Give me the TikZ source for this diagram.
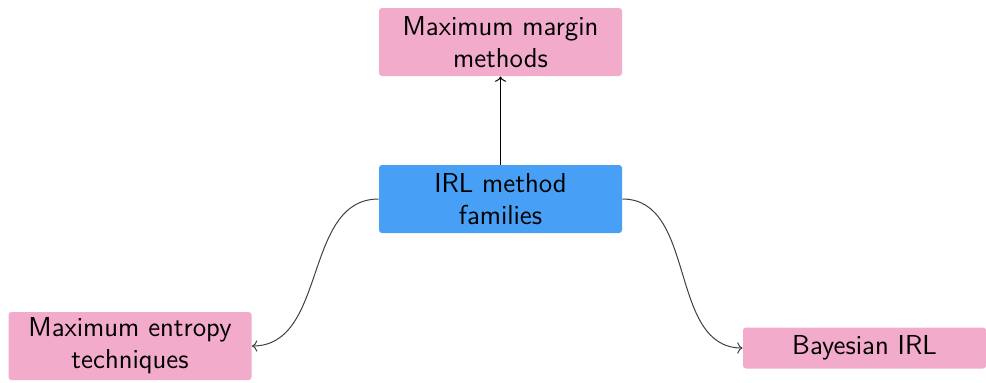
\documentclass[tikz,border=0pt]{standalone}
\usepackage{tikz}
\usetikzlibrary{arrows.meta}
\definecolor{leafpink}{HTML}{F3ABCB}
\definecolor{rootblue}{HTML}{489FF6}
\tikzset{
  family/.style={rounded corners=1.5pt, inner sep=2pt, align=center,
    font=\sffamily\fontsize{13.7}{16}\selectfont},
  rootbox/.style={family, fill=rootblue, minimum width=121.5pt, minimum height=34pt},
  leafbox/.style={family, fill=leafpink, minimum width=121.5pt, minimum height=34pt},
  link/.style={->, line width=0.5pt},
  curvelink/.style={link, draw=black!75}
}
\begin{document}
\begin{tikzpicture}[x=0.5pt,y=0.5pt]
  \useasboundingbox (0,0) rectangle (986,382);
  \node[rootbox] (irl) at (500.5,183) {IRL method\\families};
  \node[leafbox] (margin) at (500.5,340) {Maximum margin\\methods};
  \node[leafbox] (entropy) at (130,36) {Maximum entropy\\techniques};
  \node[leafbox, minimum height=20.5pt] (bayes) at (864.5,34) {Bayesian IRL};
  \draw[link] (irl) -- (margin);
  \draw[curvelink] (irl.west) to[out=180,in=0] (entropy.east);
  \draw[curvelink] (irl.east) to[out=0,in=180] (bayes.west);
\end{tikzpicture}
\end{document}
